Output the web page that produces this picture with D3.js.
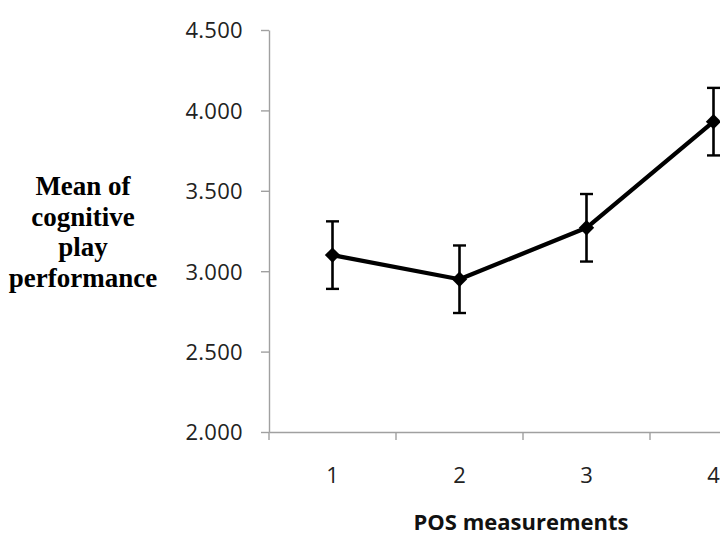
<!DOCTYPE html>
<html>
<head>
<meta charset="utf-8">
<script src="https://cdn.jsdelivr.net/npm/d3@7"></script>
<style>
  body { margin: 0; background: #fff; }
  svg { display: block; }
</style>
</head>
<body>
<div id="chart"></div>
<script>
var categories = ['1', '2', '3', '4'];
var means = [3.10, 2.95, 3.27, 3.93];
var errors = [0.21, 0.21, 0.21, 0.21];
var yTicks = [2.0, 2.5, 3.0, 3.5, 4.0, 4.5];
var yTitle = ['Mean of', 'cognitive', 'play', 'performance'];
var xTitle = 'POS measurements';

var w = 720;
var h = 537;
var axisColor = '#a0a0a0';

var svg = d3.select('#chart')
  .append('svg')
  .attr('width', w)
  .attr('height', h);

// the plot runs past the right edge, like the original picture
var x = d3.scaleBand()
  .domain(categories)
  .range([269, 777])
  .padding(0);

var y = d3.scaleLinear()
  .domain([2, 4.5])
  .range([432, 30]);

// y axis
var yAxis = svg.append('g')
  .attr('transform', 'translate(269,0)')
  .call(d3.axisLeft(y)
    .tickValues(yTicks)
    .tickSize(8)
    .tickSizeOuter(0)
    .tickPadding(18)
    .tickFormat(d3.format('.3f')));
yAxis.selectAll('path, line')
  .attr('stroke', axisColor)
  .attr('stroke-width', 1.4);
yAxis.selectAll('text')
  .attr('font-family', '"Open Sans", sans-serif')
  .attr('font-size', '22px')
  .attr('letter-spacing', '0.3px')
  .attr('fill', '#222')
  .attr('dy', '0.36em');

// x axis: labels centred in bands, ticks on band edges
var xAxis = svg.append('g')
  .attr('transform', 'translate(0,432)')
  .call(d3.axisBottom(x)
    .tickSize(0)
    .tickSizeOuter(0)
    .tickPadding(35));
xAxis.select('.domain')
  .attr('stroke', axisColor)
  .attr('stroke-width', 1.4);
xAxis.selectAll('text')
  .attr('font-family', '"Open Sans", sans-serif')
  .attr('font-size', '22px')
  .attr('fill', '#222');

var edges = categories.map(function(c) { return x(c); });
edges.push(x(categories[categories.length - 1]) + x.bandwidth());
svg.append('g')
  .selectAll('line')
  .data(edges)
  .enter()
  .append('line')
  .attr('x1', function(d) { return d; })
  .attr('x2', function(d) { return d; })
  .attr('y1', 432)
  .attr('y2', 440)
  .attr('stroke', axisColor)
  .attr('stroke-width', 1.4);

// error bars
var cx = function(i) { return x(categories[i]) + x.bandwidth() / 2; };
var bars = svg.append('g')
  .selectAll('g')
  .data(means)
  .enter()
  .append('g');
bars.append('line')
  .attr('x1', function(d, i) { return cx(i); })
  .attr('x2', function(d, i) { return cx(i); })
  .attr('y1', function(d, i) { return y(d + errors[i]); })
  .attr('y2', function(d, i) { return y(d - errors[i]); })
  .attr('stroke', '#000')
  .attr('stroke-width', 2.6);
[1, -1].forEach(function(s) {
  bars.append('line')
    .attr('x1', function(d, i) { return cx(i) - 6.5; })
    .attr('x2', function(d, i) { return cx(i) + 6.5; })
    .attr('y1', function(d, i) { return y(d + s * errors[i]); })
    .attr('y2', function(d, i) { return y(d + s * errors[i]); })
    .attr('stroke', '#000')
    .attr('stroke-width', 2.4);
});

// line
var line = d3.line()
  .x(function(d, i) { return cx(i); })
  .y(function(d) { return y(d); });
svg.append('path')
  .datum(means)
  .attr('d', line)
  .attr('fill', 'none')
  .attr('stroke', '#000')
  .attr('stroke-width', 4.3)
  .attr('stroke-linejoin', 'round');

// diamond markers
svg.append('g')
  .selectAll('path')
  .data(means)
  .enter()
  .append('path')
  .attr('d', d3.symbol().type(d3.symbolDiamond2).size(150))
  .attr('transform', function(d, i) {
    return 'translate(' + cx(i) + ',' + y(d) + ')';
  })
  .attr('fill', '#000');

// y title
svg.append('text')
  .attr('text-anchor', 'middle')
  .attr('font-family', '"Liberation Serif", "Times New Roman", serif')
  .attr('font-weight', 'bold')
  .attr('font-size', '27px')
  .attr('fill', '#000')
  .selectAll('tspan')
  .data(yTitle)
  .enter()
  .append('tspan')
  .attr('x', 83)
  .attr('y', function(d, i) { return 195 + i * 30.5; })
  .text(function(d) { return d; });

// x title
svg.append('text')
  .attr('x', 521)
  .attr('y', 530)
  .attr('text-anchor', 'middle')
  .attr('font-family', '"Open Sans", sans-serif')
  .attr('font-weight', 'bold')
  .attr('font-size', '22px')
  .attr('fill', '#111')
  .text(xTitle);
</script>
</body>
</html>
